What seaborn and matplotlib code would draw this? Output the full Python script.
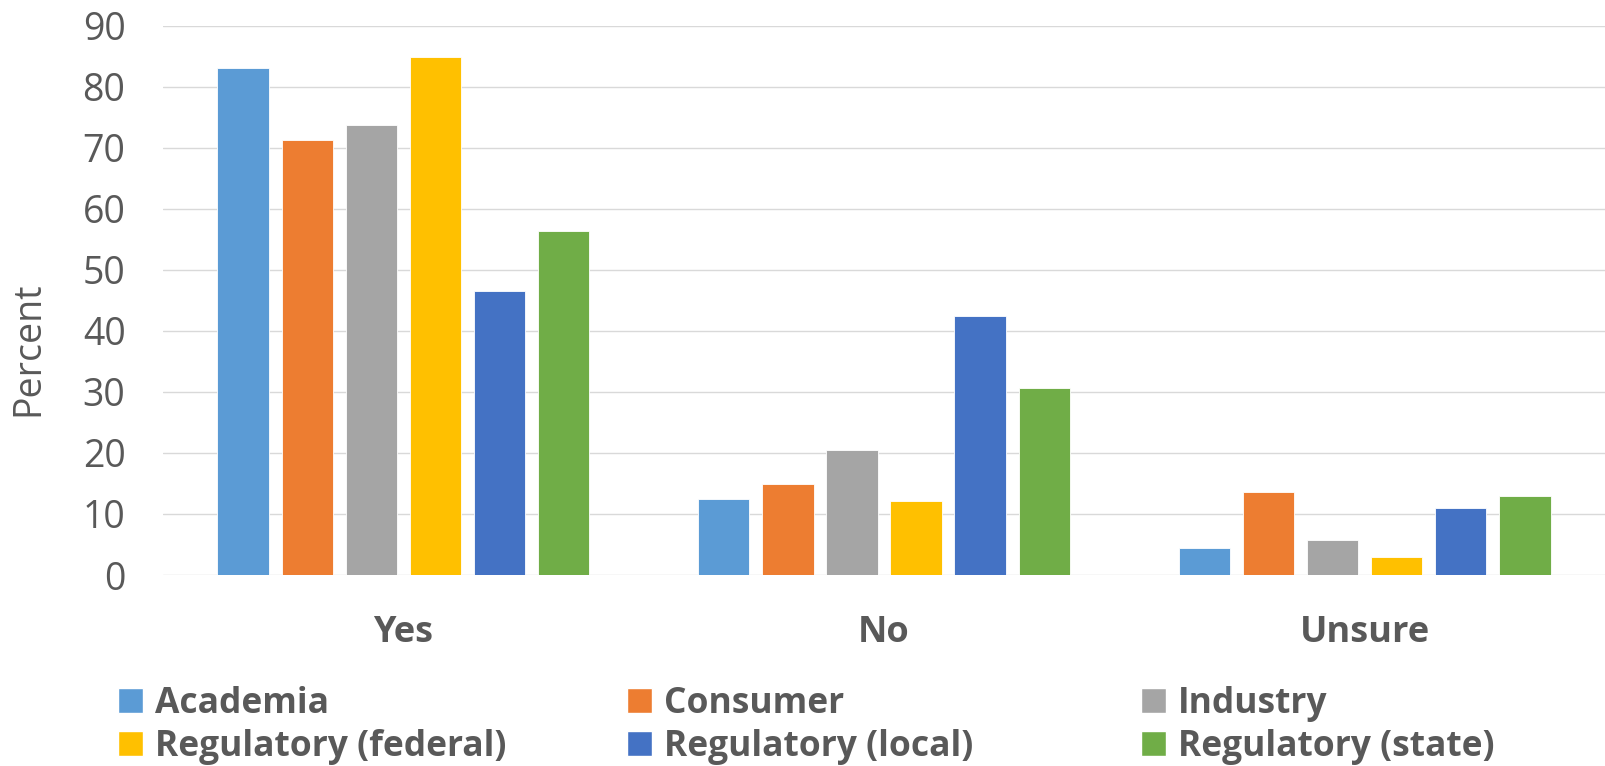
import pandas as pd
import seaborn as sns
import matplotlib.pyplot as plt
from matplotlib.patches import Patch

answers = ['Yes', 'No', 'Unsure']
groups = ['Academia', 'Consumer', 'Industry',
          'Regulatory (federal)', 'Regulatory (local)', 'Regulatory (state)']
academia = [83.0, 12.5, 4.4]
consumer = [71.3, 14.9, 13.6]
industry = [73.7, 20.4, 5.7]
federal = [84.8, 12.1, 3.0]
local = [46.5, 42.4, 10.9]
state = [56.4, 30.6, 12.9]
colors = ['#5B9BD5', '#ED7D31', '#A5A5A5', '#FFC000', '#4472C4', '#70AD47']

rows = []
for g, vals in zip(groups, [academia, consumer, industry, federal, local, state]):
    for a, v in zip(answers, vals):
        rows.append((a, g, v))
data = pd.DataFrame(rows, columns=['answer', 'group', 'Percent'])

txt = '#595959'
sns.set_theme(style='white')
plt.rcParams['font.family'] = ['Open Sans', 'DejaVu Sans']

W, H = 1605, 766
fig = plt.figure(figsize=(W / 100, H / 100), dpi=100)
ax = fig.add_axes([163 / W, 1 - 575 / H, 1 - 163 / W, (575 - 25.7) / H])

sns.barplot(data=data, x='answer', y='Percent', hue='group', order=answers,
            hue_order=groups, palette=colors, saturation=1, width=0.8, gap=0.2,
            edgecolor='white', linewidth=0.6, legend=False, ax=ax)

ax.set_ylim(0, 90)
ax.set_yticks(range(0, 91, 10))
ax.yaxis.grid(True, color='#D9D9D9', linewidth=1.0)
ax.set_axisbelow(True)
sns.despine(ax=ax, left=True, bottom=True)
ax.set(xlabel=None, ylabel=None)
ax.tick_params(axis='y', length=0, pad=27, labelsize=27, labelcolor=txt)
ax.tick_params(axis='x', length=0, pad=29, labelsize=26, labelcolor=txt)
for lab in ax.get_xticklabels():
    lab.set_fontweight('bold')

fig.text(28.5 / W, 1 - 349 / H, 'Percent', rotation=90, ha='center', va='center',
         fontsize=27, color=txt)

# legend: three columns laid out like the Excel legend
cols_x = [118, 627, 1141]
for i, x in enumerate(cols_x):
    handles = [Patch(facecolor=colors[i]), Patch(facecolor=colors[i + 3])]
    labels = [groups[i], groups[i + 3]]
    fig.legend(handles, labels, loc='upper left', bbox_to_anchor=(x / W, 1 - 686 / H),
               frameon=False, borderpad=0, borderaxespad=0, handlelength=0.7,
               handleheight=0.7, handletextpad=0.35, labelspacing=0.19,
               prop={'size': 25.5, 'weight': 'bold'}, labelcolor=txt)

fig.savefig('out.png', dpi=100)
